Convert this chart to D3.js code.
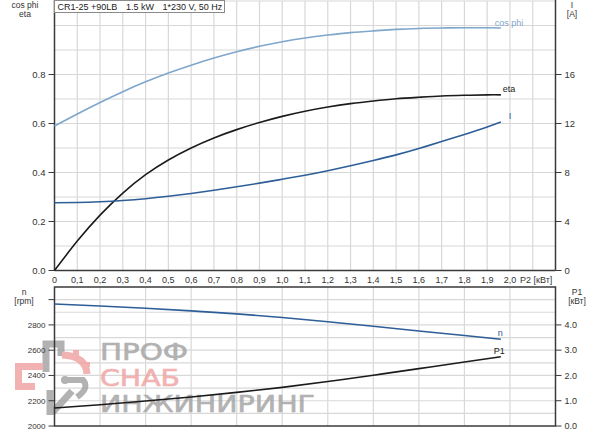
<!DOCTYPE html>
<html><head><meta charset="utf-8">
<script src="https://cdn.jsdelivr.net/npm/d3@7/dist/d3.min.js"></script>
<style>
html,body{margin:0;padding:0;background:#fff;}
svg{display:block;font-family:"Liberation Sans",Arial,sans-serif;}
</style></head>
<body>
<svg id="c" width="600" height="434"></svg>
<script>
// ---- data ----
const titleParts = ["CR1-25 +90LB", "1.5 kW", "1*230 V, 50 Hz"];
const p2 = [0, 0.1, 0.2, 0.3, 0.4, 0.5, 0.6, 0.7, 0.8, 0.9, 1.0, 1.1, 1.2, 1.3, 1.4, 1.5, 1.6, 1.7, 1.8, 1.9, 1.96];
const cosPhi = [0.59, 0.639, 0.686, 0.730, 0.770, 0.806, 0.838, 0.867, 0.893, 0.915, 0.934, 0.949, 0.961, 0.971, 0.978, 0.984, 0.988, 0.990, 0.991, 0.991, 0.990];
const eta = [0, 0.12, 0.226, 0.316, 0.391, 0.451, 0.500, 0.541, 0.575, 0.604, 0.629, 0.650, 0.667, 0.681, 0.692, 0.701, 0.707, 0.712, 0.715, 0.717, 0.717];
const current = [5.53, 5.55, 5.61, 5.71, 5.86, 6.06, 6.29, 6.55, 6.83, 7.13, 7.45, 7.78, 8.15, 8.55, 8.98, 9.44, 9.96, 10.53, 11.11, 11.72, 12.12];
const p2b = [0, 0.2, 0.4, 0.6, 0.8, 1.0, 1.2, 1.4, 1.6, 1.8, 1.96];
const speed = [2966, 2950, 2932, 2911, 2887, 2859, 2825, 2789, 2752, 2716, 2686];
const p1 = [0.71, 0.84, 0.99, 1.15, 1.33, 1.53, 1.76, 2.01, 2.27, 2.53, 2.74];
const xTicks = [0, 0.1, 0.2, 0.3, 0.4, 0.5, 0.6, 0.7, 0.8, 0.9, 1.0, 1.1, 1.2, 1.3, 1.4, 1.5, 1.6, 1.7, 1.8, 1.9, 2.0];
const leftTopTicks = [0, 0.2, 0.4, 0.6, 0.8];
const rightTopTicks = [0, 4, 8, 12, 16];
const leftBotTicks = [2000, 2200, 2400, 2600, 2800];
const rightBotTicks = [0, 1, 2, 3, 4];
const wmLines = ["ПРОФ", "СНАБ", "ИНЖИНИРИНГ"];

// ---- colors / layout ----
const C_COS = "#7fa6cb", C_BLUE = "#2d5e98", C_BLACK = "#1b1b1b", C_GRID = "#d8d8d8", C_AX = "#3a3a3a", C_TXT = "#333";
const L = 54.5, R = 555.5;
const svg = d3.select("#c");

const x = d3.scaleLinear([0, 2.2], [L, R]);
const yT = d3.scaleLinear([0, 1.1], [270.5, 1]);
const yI = d3.scaleLinear([0, 22], [270.5, 1]);
const yN = d3.scaleLinear([2000, 3100], [426, 287]);
const yP = d3.scaleLinear([0, 5.5], [426, 287]);

// ---- grids ----
const g = svg.append("g");
g.selectAll(".vt").data(d3.range(1, 22)).join("line")
  .attr("x1", i => x(i / 10)).attr("x2", i => x(i / 10))
  .attr("y1", yT(1.1)).attr("y2", yT(0))
  .attr("stroke", C_GRID).attr("stroke-width", 1.2);
g.selectAll(".ht").data(d3.range(1, 12)).join("line")
  .attr("x1", L).attr("x2", R)
  .attr("y1", i => yT(i / 10)).attr("y2", i => yT(i / 10))
  .attr("stroke", C_GRID).attr("stroke-width", 1.2);
g.selectAll(".vb").data(d3.range(1, 11)).join("line")
  .attr("x1", i => x(i / 5)).attr("x2", i => x(i / 5))
  .attr("y1", yN(3100)).attr("y2", yN(2000))
  .attr("stroke", C_GRID).attr("stroke-width", 1.2);
g.selectAll(".hb").data(d3.range(1, 11)).join("line")
  .attr("x1", L).attr("x2", R)
  .attr("y1", i => yN(2000 + i * 100)).attr("y2", i => yN(2000 + i * 100))
  .attr("stroke", C_GRID).attr("stroke-width", 1.2);

// ---- watermark ----
const wm = svg.append("g").attr("opacity", 0.8);
const GRAY = "#a0a0a0", PINK = "#f0a0a0";
const st = (d, c, w) => wm.append("path").attr("d", d).attr("fill", "none").attr("stroke", c).attr("stroke-width", w);
st("M46,372 V344 H61 V356", GRAY, 7);
st("M43,366.5 H18.5 V386.5 H35", PINK, 7);
st("M62,355 Q86,356 87,374", PINK, 7);
wm.append("rect").attr("x", 73).attr("y", 350).attr("width", 6).attr("height", 6).attr("fill", PINK);
wm.append("rect").attr("x", 83).attr("y", 362).attr("width", 7).attr("height", 5).attr("fill", PINK);
wm.append("circle").attr("cx", 65).attr("cy", 380).attr("r", 4).attr("fill", GRAY);
st("M65,380 H83 Q90,388 77,397", GRAY, 6);
st("M50,390 V415 M52,413 L72,391", GRAY, 7);
const wmPos = [[100, 359.5, 88, GRAY], [100, 385.5, 80, PINK], [100, 411.5, 215, GRAY]];
wm.selectAll(".wt").data(wmLines).join("text")
  .attr("x", (d, i) => wmPos[i][0]).attr("y", (d, i) => wmPos[i][1])
  .attr("textLength", (d, i) => wmPos[i][2]).attr("lengthAdjust", "spacingAndGlyphs")
  .attr("font-size", 22.5).attr("font-family", "DejaVu Sans")
  .attr("fill", (d, i) => wmPos[i][3]).attr("stroke", (d, i) => wmPos[i][3]).attr("stroke-width", 0.6)
  .text(d => d);

// ---- frames / axes ----
const ax = svg.append("g").attr("stroke", C_AX).attr("stroke-width", 1.5).attr("fill", "none");
ax.append("line").attr("x1", L).attr("x2", L).attr("y1", 0).attr("y2", yT(0));
ax.append("line").attr("x1", R).attr("x2", R).attr("y1", 0).attr("y2", yT(0));
ax.append("line").attr("x1", L).attr("x2", R).attr("y1", yT(0)).attr("y2", yT(0));
ax.append("rect").attr("x", L).attr("y", yN(3100)).attr("width", R - L).attr("height", yN(2000) - yN(3100));

function ticks(scale, vals, side, fmt, fs) {
  const tg = svg.append("g");
  const x0 = side === "l" ? L : R;
  const dir = side === "l" ? -1 : 1;
  tg.selectAll("line").data(vals).join("line")
    .attr("x1", x0).attr("x2", x0 + dir * 6)
    .attr("y1", d => scale(d)).attr("y2", d => scale(d))
    .attr("stroke", C_AX).attr("stroke-width", 1);
  tg.selectAll("text").data(vals).join("text")
    .attr("x", x0 + dir * 9).attr("y", d => scale(d) + fs * 0.36)
    .attr("text-anchor", side === "l" ? "end" : "start")
    .attr("font-size", fs).attr("fill", C_TXT)
    .text(fmt);
}
ticks(yT, leftTopTicks, "l", d => d.toFixed(1), 9.5);
ticks(yI, rightTopTicks, "r", d => d, 9.5);
ticks(yN, leftBotTicks, "l", d => d, 8);
ticks(yP, rightBotTicks, "r", d => d.toFixed(1), 9);
svg.append("line").attr("x1", L - 6).attr("x2", L).attr("y1", yN(3000)).attr("y2", yN(3000)).attr("stroke", C_AX);

svg.append("g").selectAll("text").data(xTicks).join("text")
  .attr("x", d => x(d)).attr("y", 283)
  .attr("text-anchor", "middle").attr("font-size", 9).attr("fill", C_TXT)
  .text(d => d === 0 ? "0" : d.toFixed(1).replace(".", ","));
svg.append("text").attr("x", 520).attr("y", 283).attr("font-size", 9).attr("fill", C_TXT).text("P2 [кВт]");

function unit(xc, y1, t1, t2) {
  svg.append("text").attr("x", xc).attr("y", y1).attr("text-anchor", "middle").attr("font-size", 8.5).attr("fill", C_TXT).text(t1);
  svg.append("text").attr("x", xc).attr("y", y1 + 9.5).attr("text-anchor", "middle").attr("font-size", 8.5).attr("fill", C_TXT).text(t2);
}
unit(25, 7.5, "cos phi", "eta");
unit(572, 7.5, "I", "[A]");
unit(24, 294.5, "n", "[rpm]");
unit(577, 294.5, "P1", "[кВт]");

// ---- curves ----
const line = (xs, ys, ysc) => d3.line().x((d, i) => x(xs[i])).y(d => ysc(d)).curve(d3.curveNatural)(ys);
const cg = svg.append("g").attr("fill", "none").attr("stroke-width", 1.6);
cg.append("path").attr("d", line(p2, cosPhi, yT)).attr("stroke", C_COS);
cg.append("path").attr("d", line(p2, eta, yT)).attr("stroke", C_BLACK);
cg.append("path").attr("d", line(p2, current, yI)).attr("stroke", C_BLUE);
cg.append("path").attr("d", line(p2b, speed, yN)).attr("stroke", C_BLUE);
cg.append("path").attr("d", line(p2b, p1, yP)).attr("stroke", C_BLACK);

const lab = (xx, yy, t, c) => svg.append("text").attr("x", xx).attr("y", yy).attr("font-size", 9).attr("fill", c).text(t);
lab(x(1.96) - 6, yT(cosPhi[cosPhi.length - 1]) - 2, "cos phi", C_COS);
lab(x(1.96) + 2, yT(eta[eta.length - 1]) - 3, "eta", C_BLACK);
lab(x(1.96) + 8, yI(current[current.length - 1]) - 3, "I", C_BLUE);
lab(x(1.96) - 3, yN(speed[speed.length - 1]) - 3, "n", C_BLUE);
lab(x(1.96) - 7, yP(p1[p1.length - 1]) - 3, "P1", C_BLACK);

// ---- title box ----
svg.append("rect").attr("x", L).attr("y", 0.5).attr("width", 170).attr("height", 12)
  .attr("fill", "#fff").attr("stroke", "#8a8a8a").attr("stroke-width", 1);
const titleX = [57.5, 126, 162.5];
svg.append("g").selectAll("text").data(titleParts).join("text")
  .attr("x", (d, i) => titleX[i]).attr("y", 10).attr("font-size", 9).attr("fill", "#222")
  .text(d => d);
</script>
</body></html>
